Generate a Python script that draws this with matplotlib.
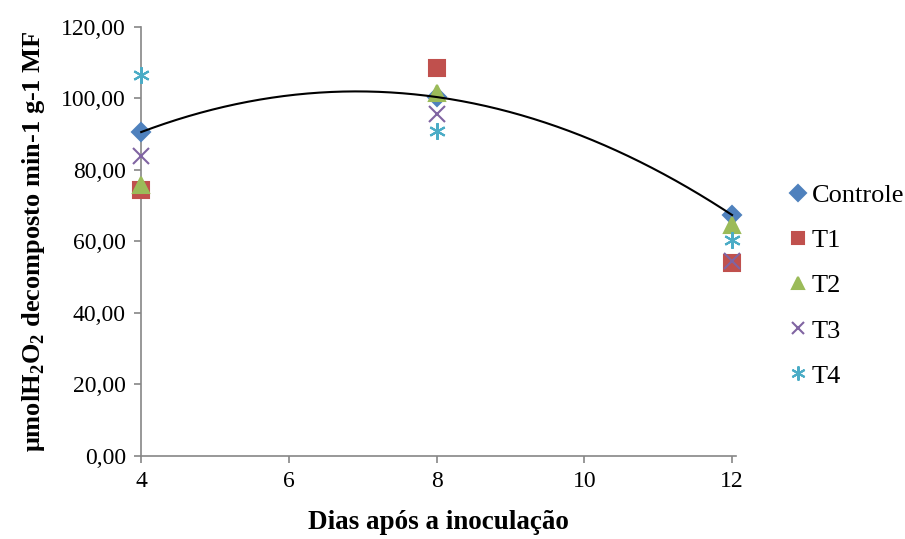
import numpy as np
import matplotlib
matplotlib.use("Agg")
import matplotlib.pyplot as plt
from matplotlib.ticker import FuncFormatter

plt.rcParams['font.family'] = ['Liberation Serif', 'DejaVu Serif']
plt.rcParams['mathtext.fontset'] = 'custom'
plt.rcParams['mathtext.rm'] = 'Liberation Serif'
plt.rcParams['mathtext.bf'] = 'Liberation Serif:bold'

dias = [4, 8, 12]
controle = [90.6, 100.4, 67.4]
t1 = [74.4, 108.5, 54.0]
t2 = [75.8, 101.5, 64.5]
t3 = [83.9, 95.6, 54.5]
t4 = [106.6, 90.9, 60.4]

series = [
    ("Controle", controle, "D", "#4F81BD", 9),
    ("T1", t1, "s", "#C0504D", 11),
    ("T2", t2, "^", "#9BBB59", 11),
    ("T3", t3, "x", "#8064A2", 11),
    ("T4", t4, (6, 2, 0), "#4BACC6", 12),
]

fig = plt.figure(figsize=(9.05, 5.39), dpi=100)
ax = fig.add_axes([0.156, 0.154, 0.657, 0.796])

# trendline (polinomial de ordem 2) do controle
coef = np.polyfit(dias, controle, 2)
xs = np.linspace(4, 12, 200)
ax.plot(xs, np.polyval(coef, xs), color="black", lw=1.5, zorder=5, clip_on=False)

for nome, vals, mk, cor, ms in series:
    ax.plot(dias, vals, linestyle="none", marker=mk, color=cor, markersize=ms,
            markeredgewidth=1.5, label=nome, zorder=3, clip_on=False)

ax.set_xlim(4, 12.05)
ax.set_ylim(0, 120)
ax.set_xticks([4, 6, 8, 10, 12])
ax.set_yticks(np.arange(0, 121, 20))
ax.yaxis.set_major_formatter(FuncFormatter(lambda v, p: f"{v:.2f}".replace(".", ",")))

for s in ["top", "right"]:
    ax.spines[s].set_visible(False)
for s in ["left", "bottom"]:
    ax.spines[s].set_color("#868686")
    ax.spines[s].set_linewidth(1.2)
ax.tick_params(axis="both", direction="out", color="#868686", width=1.2, length=5,
               labelsize=17, pad=6)

ax.set_xlabel("Dias após a inoculação", fontsize=19.5, fontweight="bold", labelpad=13)
ax.set_ylabel(r"μmolH$_\mathbf{2}$O$_\mathbf{2}$ decomposto min-1 g-1 MF",
              fontsize=19, fontweight="bold", labelpad=10)

ax.legend(loc="center left", bbox_to_anchor=(0.872, 0.47), bbox_transform=fig.transFigure,
          frameon=False, fontsize=19, markerscale=0.85,
          handlelength=0.7, handletextpad=0.15, labelspacing=0.82, borderaxespad=0,
          borderpad=0)

fig.savefig("out.png", dpi=100)
